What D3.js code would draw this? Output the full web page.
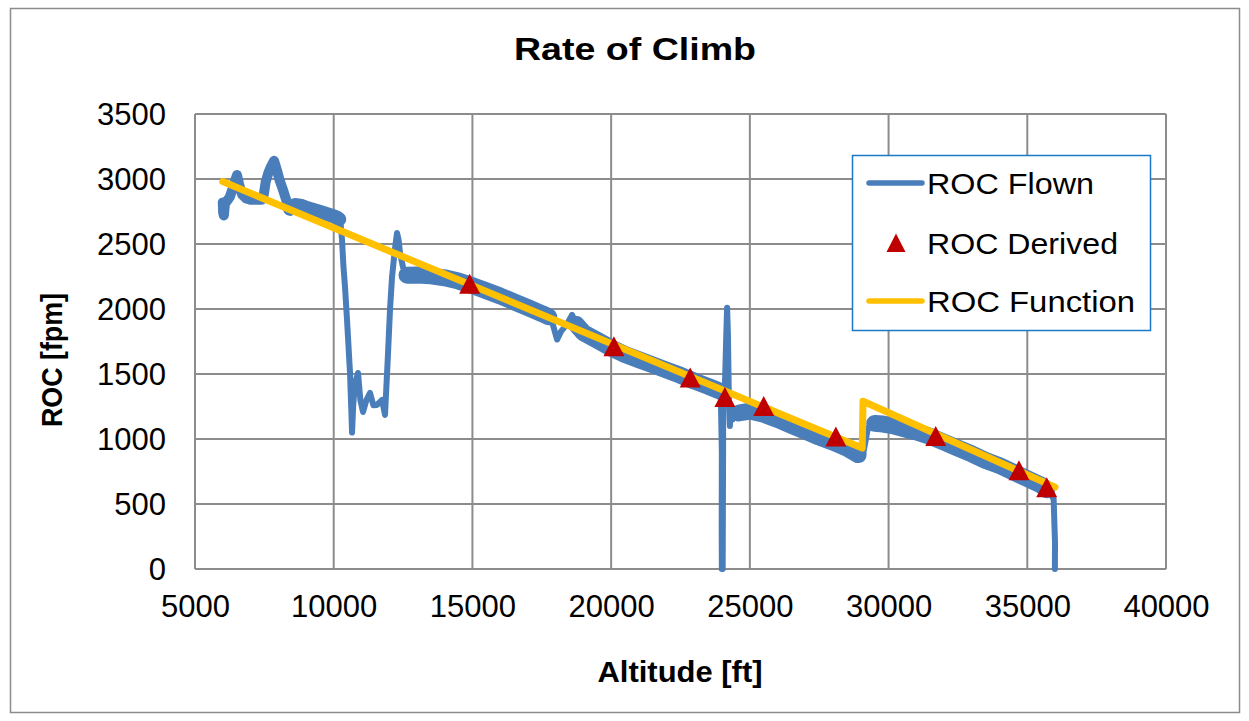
<!DOCTYPE html>
<html>
<head>
<meta charset="utf-8">
<script src="https://cdn.jsdelivr.net/npm/d3@7"></script>
<style>
  body { margin: 0; background: #fff; }
  text { font-family: "Liberation Sans", Arial, sans-serif; fill: #000; }
</style>
</head>
<body>
<svg id="chart"></svg>
<script>
// ---- data ----
const xTicks = [5000, 10000, 15000, 20000, 25000, 30000, 35000, 40000];
const yTicks = [0, 500, 1000, 1500, 2000, 2500, 3000, 3500];

// ROC Flown [altitude ft, roc fpm] (centre of the noisy trace)
const flown = [
  [6000,2820],[6015,2740],[6040,2720],[6080,2810],[6150,2830],[6250,2860],[6350,2920],[6450,2990],
  [6514,3030],[6600,2950],[6700,2880],[6850,2850],[7000,2840],[7200,2840],[7400,2840],[7480,2880],
  [7550,2980],[7650,3050],[7750,3100],[7850,3140],[7950,3070],[8050,2990],[8150,2930],[8300,2830],
  [8425,2770],[8600,2800],[8800,2795],[9000,2780],[9300,2760],[9600,2740],[9900,2720],[10100,2705],
  [10200,2690],
  [10250,2650],[10300,2530],[10350,2330],[10407,2169],[10480,1915],[10588,1508],[10630,1250],[10660,1050],
  [10700,1250],[10760,1420],[10876,1508],[10960,1300],[11056,1208],[11180,1300],[11309,1354],[11430,1260],
  [11560,1262],[11741,1300],[11849,1185],[11958,1661],[12030,2000],[12102,2246],[12200,2450],[12282,2585],
  [12340,2530],[12390,2431],[12500,2320],[12642,2260],
  [13000,2262],[13500,2255],[14000,2240],[14500,2215],[15000,2180],[15500,2140],[16000,2100],[16500,2055],
  [17000,2010],[17500,1965],[17750,1940],[17900,1880],[18050,1765],[18200,1830],[18400,1880],[18590,1955],
  [18750,1880],[19000,1818],[19500,1760],[20000,1700],[20500,1650],[21000,1610],[21500,1570],[22000,1530],
  [22500,1490],[23000,1445],[23500,1405],[23900,1370],
  [23950,1360],[23990,900],[23985,300],[23990,0],[24020,0],[24030,600],[24040,1250],[24100,1400],
  [24150,1800],[24180,2010],[24210,1800],[24240,1350],[24280,1100],[24330,1250],[24380,1150],[24450,1210],
  [24600,1200],[25000,1215],[25500,1190],[26000,1150],[26500,1105],[27000,1060],[27500,1015],[28000,975],
  [28500,930],[28900,880],[29050,850],
  [29150,960],[29250,1080],[29330,1100],[29500,1120],[29800,1115],[30200,1100],[30700,1070],[31000,1055],
  [31500,1020],[32000,975],[32500,930],[33000,885],[33500,835],[34000,795],[34500,745],[35000,695],
  [35500,645],[35700,610],[35850,570],[35950,540],[35980,330],[36000,200],[35995,0]
];

// altitude stretches where the flown trace is a thick noisy band [from, to, band width px]
const flownBands = [
  [6000, 8425, 10], [8425, 10200, 14], [12642, 17750, 17],
  [18750, 23900, 17], [24600, 28900, 17], [29400, 35700, 17]
];

// ROC Function
const funcAlt = [6000, 29050, 29080, 36000];
const funcRoc = [2980, 930, 1290, 630];

// ROC Derived
const derivedAlt = [14900, 20100, 22850, 24100, 25500, 28100, 31700, 34700, 35700];
const derivedRoc = [2190, 1710, 1470, 1320, 1250, 1015, 1020, 755, 625];

const seriesNames = ["ROC Flown", "ROC Derived", "ROC Function"];

// ---- layout ----
const W = 1249, H = 721;
const plot = { left: 195, top: 114, right: 1166, bottom: 569 };
const gridColor = "#8c8c8c";
const blue = "#4a7ebb", yellow = "#ffc000", red = "#c00000";

const svg = d3.select("#chart").attr("width", W).attr("height", H);

svg.append("rect")
  .attr("x", 10.5).attr("y", 8.5).attr("width", 1229).attr("height", 704)
  .attr("fill", "#fff").attr("stroke", "#8c8c8c").attr("stroke-width", 1.5);

const x = d3.scaleLinear().domain([5000, 40000]).range([plot.left, plot.right]);
const y = d3.scaleLinear().domain([0, 3500]).range([plot.bottom, plot.top]);

// grid
const grid = svg.append("g");
grid.selectAll("line.v").data(xTicks).join("line")
  .attr("x1", d => x(d)).attr("x2", d => x(d))
  .attr("y1", plot.top).attr("y2", plot.bottom)
  .attr("stroke", gridColor).attr("stroke-width", 2);
grid.selectAll("line.h").data(yTicks).join("line")
  .attr("x1", plot.left).attr("x2", plot.right)
  .attr("y1", d => y(d)).attr("y2", d => y(d))
  .attr("stroke", gridColor).attr("stroke-width", 2);

// axes (labels only, Excel style)
const xAxis = d3.axisBottom(x).tickValues(xTicks).tickSize(0).tickPadding(26).tickFormat(d3.format("d"));
const yAxis = d3.axisLeft(y).tickValues(yTicks).tickSize(0).tickPadding(29).tickFormat(d3.format("d"));

const gx = svg.append("g").attr("transform", `translate(0,${plot.bottom})`).call(xAxis);
const gy = svg.append("g").attr("transform", `translate(${plot.left},0)`).call(yAxis);
[gx, gy].forEach(g => {
  g.select(".domain").remove();
  g.selectAll("text")
    .attr("font-size", 31)
    .attr("font-family", "Liberation Sans, Arial, sans-serif")
    .attr("fill", "#000");
});
gx.selectAll("text").attr("dy", "0.71em");
gy.selectAll("text").attr("dy", "0.35em");

// series
const line = d3.line().x(d => x(d[0])).y(d => y(d[1]));

// noisy band parts of the flown trace
svg.append("g").selectAll("path")
  .data(flownBands)
  .join("path")
  .attr("d", b => line(flown.filter(d => d[0] >= b[0] && d[0] <= b[1])))
  .attr("fill", "none")
  .attr("stroke", blue)
  .attr("stroke-width", b => b[2])
  .attr("stroke-linejoin", "round")
  .attr("stroke-linecap", "round");

svg.append("path")
  .datum(flown)
  .attr("d", line)
  .attr("fill", "none")
  .attr("stroke", blue)
  .attr("stroke-width", 6)
  .attr("stroke-linejoin", "round")
  .attr("stroke-linecap", "round");

svg.append("path")
  .datum(funcAlt.map((a, i) => [a, funcRoc[i]]))
  .attr("d", line)
  .attr("fill", "none")
  .attr("stroke", yellow)
  .attr("stroke-width", 7)
  .attr("stroke-linejoin", "round")
  .attr("stroke-linecap", "round");

const tri = "M0,-10.5L10.5,9.5L-10.5,9.5Z";
svg.append("g").selectAll("path")
  .data(derivedAlt.map((a, i) => [a, derivedRoc[i]]))
  .join("path")
  .attr("d", tri)
  .attr("transform", d => `translate(${x(d[0])},${y(d[1])})`)
  .attr("fill", red);

// title and axis titles
function label(txt, px, py, size, len, opts = {}) {
  const t = svg.append("text")
    .text(txt)
    .attr("x", px).attr("y", py)
    .attr("font-size", size)
    .attr("font-weight", opts.bold ? "bold" : "normal")
    .attr("text-anchor", opts.anchor || "start")
    .attr("textLength", len)
    .attr("lengthAdjust", "spacingAndGlyphs");
  if (opts.rotate) t.attr("transform", `rotate(-90,${px},${py})`);
  return t;
}

label("Rate of Climb", 635, 60, 32, 242, { bold: true, anchor: "middle" });
label("Altitude [ft]", 680, 682, 30, 165, { bold: true, anchor: "middle" });
label("ROC [fpm]", 62, 360, 29, 134, { bold: true, anchor: "middle", rotate: true });

// legend
const legend = svg.append("g");
legend.append("rect")
  .attr("x", 852.5).attr("y", 155.5).attr("width", 298).attr("height", 175)
  .attr("fill", "#fff").attr("stroke", "#1a7ac8").attr("stroke-width", 1.5);

const legY = [183, 243, 301];
const legLen = [167, 191, 208];
seriesNames.forEach((name, i) => {
  if (i === 1) {
    legend.append("path").attr("d", "M0,-9.5L9.5,9L-9.5,9Z")
      .attr("transform", `translate(896,${legY[i]})`).attr("fill", red);
  } else {
    legend.append("line")
      .attr("x1", 869).attr("x2", 922).attr("y1", legY[i]).attr("y2", legY[i])
      .attr("stroke", i === 0 ? blue : yellow)
      .attr("stroke-width", 5.5).attr("stroke-linecap", "round");
  }
  label(name, 927, legY[i] + 11, 30, legLen[i]);
});
</script>
</body>
</html>
